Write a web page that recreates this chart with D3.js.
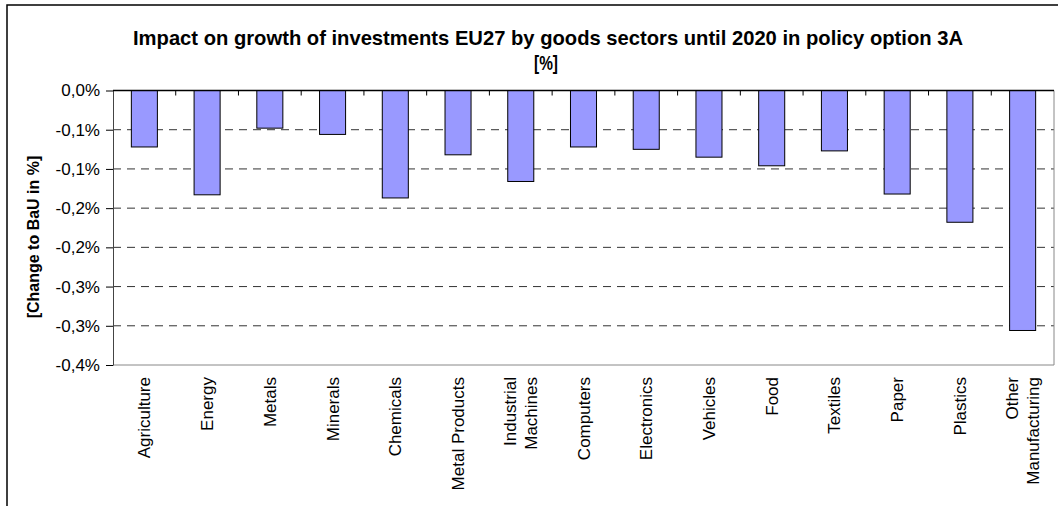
<!DOCTYPE html>
<html>
<head>
<meta charset="utf-8">
<script src="https://cdn.jsdelivr.net/npm/d3@7"></script>
<style>
  body { margin: 0; background: #fff; }
  text { font-family: "Liberation Sans", Arial, sans-serif; fill: #000; }
</style>
</head>
<body>
<svg id="chart" width="1058" height="506"></svg>
<script>
// data
const sectors = ["Agriculture", "Energy", "Metals", "Minerals", "Chemicals", "Metal Products",
    "Industrial\nMachines", "Computers", "Electronics", "Vehicles", "Food", "Textiles",
    "Paper", "Plastics", "Other\nManufacturing"];
const changes = [-0.072, -0.133, -0.048, -0.056, -0.137, -0.082, -0.116, -0.072,
    -0.075, -0.085, -0.096, -0.077, -0.132, -0.168, -0.306];
const yTicks = [0, -0.05, -0.1, -0.15, -0.2, -0.25, -0.3, -0.35];
const yTickLabels = ["0,0%", "-0,1%", "-0,1%", "-0,2%", "-0,2%", "-0,3%", "-0,3%", "-0,4%"];
const titleLines = ["Impact on growth of investments EU27 by goods sectors until 2020 in policy option 3A", "[%]"];
const yLabel = "[Change to BaU in %]";

const svg = d3.select("#chart");

const plot = { left: 113, right: 1054, top: 90.5, bottom: 365 };

// outer chart frame (runs off the right and bottom edge)
svg.append("rect")
    .attr("x", 7).attr("y", 5)
    .attr("width", 1070).attr("height", 520)
    .attr("fill", "#fff")
    .attr("stroke", "#000")
    .attr("stroke-width", 1.5);

const x = d3.scaleBand()
    .domain(sectors)
    .range([plot.left, plot.right])
    .paddingInner(0.585)
    .paddingOuter(0.2925);

const y = d3.scaleLinear()
    .domain([-0.35, 0])
    .range([plot.bottom, plot.top]);

// gridlines
svg.append("g")
    .selectAll("line")
    .data(yTicks.filter(d => d !== 0 && d !== -0.35))
    .join("line")
    .attr("x1", plot.left).attr("x2", plot.right)
    .attr("y1", d => y(d)).attr("y2", d => y(d))
    .attr("stroke", "#333")
    .attr("stroke-width", 1)
    .attr("stroke-dasharray", "8,6");

// right and bottom edge of plot area
svg.append("path")
    .attr("d", `M${plot.right},${plot.top}V${plot.bottom}H${plot.left}`)
    .attr("fill", "none")
    .attr("stroke", "#888")
    .attr("stroke-width", 1);

// bars
svg.append("g")
    .selectAll("rect")
    .data(changes)
    .join("rect")
    .attr("x", (d, i) => x(sectors[i]))
    .attr("y", y(0))
    .attr("width", x.bandwidth())
    .attr("height", d => y(d) - y(0))
    .attr("fill", "#9999ff")
    .attr("stroke", "#000")
    .attr("stroke-width", 1);

// y axis
const yAxis = svg.append("g")
    .attr("transform", `translate(${plot.left},0)`)
    .call(d3.axisLeft(y)
        .tickValues(yTicks)
        .tickSize(7)
        .tickSizeOuter(0)
        .tickPadding(6)
        .tickFormat((d, i) => yTickLabels[i]));
yAxis.select(".domain").attr("stroke", "#444");
yAxis.selectAll(".tick line").attr("stroke", "#000");
yAxis.selectAll(".tick text")
    .attr("font-size", "17px")
    .attr("font-family", "Liberation Sans, Arial, sans-serif");

// zero line with small category ticks pointing down
svg.append("line")
    .attr("x1", plot.left).attr("x2", plot.right)
    .attr("y1", y(0)).attr("y2", y(0))
    .attr("stroke", "#000")
    .attr("stroke-width", 1.5);

const step = x.step();
svg.append("g")
    .selectAll("line")
    .data(sectors.slice(1))
    .join("line")
    .attr("x1", d => x(d) - x.paddingInner() * step / 2)
    .attr("x2", d => x(d) - x.paddingInner() * step / 2)
    .attr("y1", y(0))
    .attr("y2", y(0) + 5)
    .attr("stroke", "#000");

// category labels, rotated, below the plot
const catG = svg.append("g");
sectors.forEach((s, i) => {
    const lines = s.split("\n");
    const cx = x(s) + x.bandwidth() / 2;
    const lh = 21;
    lines.forEach((ln, j) => {
        const off = (j - (lines.length - 1) / 2) * lh;
        catG.append("text")
            .attr("transform", `translate(${cx + off + 6},${plot.bottom + 12}) rotate(-90)`)
            .attr("text-anchor", "end")
            .attr("font-size", "17px")
            .text(ln);
    });
});

// title
svg.append("text")
    .attr("x", 548).attr("y", 45)
    .attr("text-anchor", "middle")
    .attr("font-size", "21px")
    .attr("font-weight", "bold")
    .attr("textLength", 830)
    .attr("lengthAdjust", "spacingAndGlyphs")
    .text(titleLines[0]);
svg.append("text")
    .attr("x", 546).attr("y", 70)
    .attr("text-anchor", "middle")
    .attr("font-size", "21px")
    .attr("font-weight", "bold")
    .attr("textLength", 24)
    .attr("lengthAdjust", "spacingAndGlyphs")
    .text(titleLines[1]);

// y axis title
svg.append("text")
    .attr("transform", `translate(39,237) rotate(-90)`)
    .attr("text-anchor", "middle")
    .attr("font-size", "16px")
    .attr("font-weight", "bold")
    .text(yLabel);
</script>
</body>
</html>
